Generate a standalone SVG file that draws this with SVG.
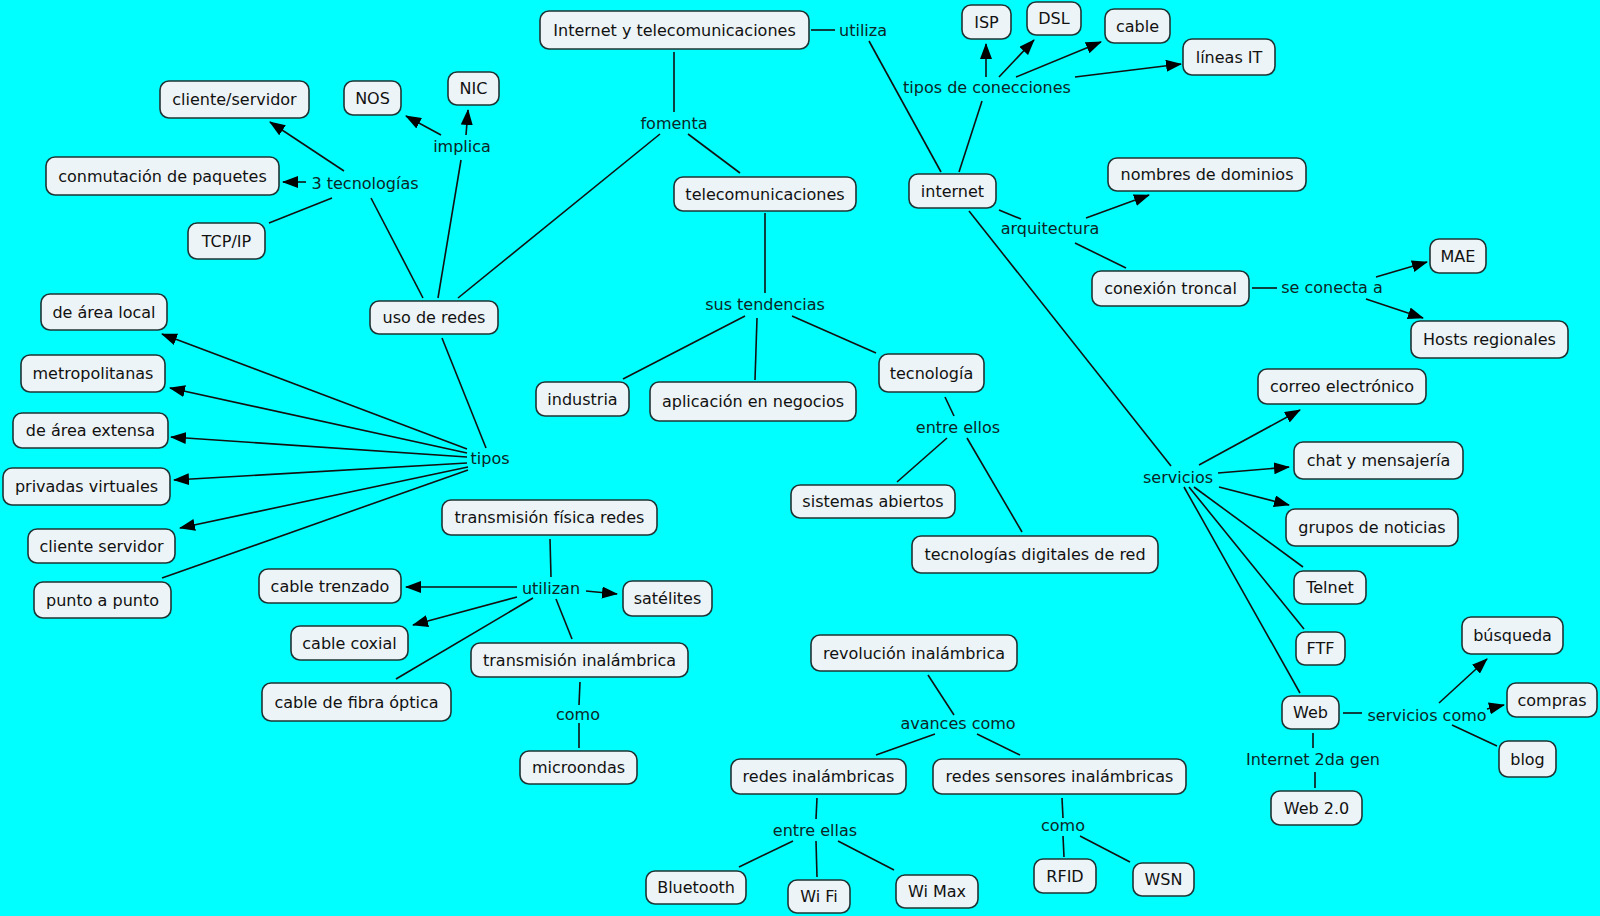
<svg xmlns="http://www.w3.org/2000/svg" width="1600" height="916" viewBox="0 0 1600 916">
<style>
.n rect{fill:#edf4f7;stroke:#1e3434;stroke-width:1.6}
text{font-family:"DejaVu Sans",Verdana,sans-serif;font-size:16px;fill:#111;text-anchor:middle}
.lb{fill:#0b2626}
#links path{fill:none;stroke:#111;stroke-width:1.6}
</style>
<defs>
<marker id="ah" viewBox="0 0 16 12" refX="15" refY="6" markerWidth="16" markerHeight="12" markerUnits="userSpaceOnUse" orient="auto"><path d="M0,0 L16,6 L0,12 z" fill="#000"/></marker>
</defs>
<rect width="1600" height="916" fill="#00ffff"/>
<g id="links">
<path d="M811,30 L835,30"/>
<path d="M869,41 L941,172"/>
<path d="M674,52 L674,112"/>
<path d="M660,134 L458,298"/>
<path d="M688,134 L740,173"/>
<path d="M765,213 L765,293"/>
<path d="M745,316 L623,379"/>
<path d="M757,318 L755,380"/>
<path d="M792,316 L876,353"/>
<path d="M945,397 L954,416"/>
<path d="M947,438 L897,482"/>
<path d="M967,438 L1022,532"/>
<path d="M423,298 L371,198"/>
<path d="M344,171 L270,122" marker-end="url(#ah)"/>
<path d="M306,182 L283,182" marker-end="url(#ah)"/>
<path d="M332,198 L269,223"/>
<path d="M438,298 L461,160"/>
<path d="M441,135 L406,116" marker-end="url(#ah)"/>
<path d="M466,135 L468,110" marker-end="url(#ah)"/>
<path d="M442,338 L486,448"/>
<path d="M467,449 L162,334" marker-end="url(#ah)"/>
<path d="M467,453 L170,388" marker-end="url(#ah)"/>
<path d="M467,457 L171,437" marker-end="url(#ah)"/>
<path d="M467,463 L174,480" marker-end="url(#ah)"/>
<path d="M468,467 L180,528" marker-end="url(#ah)"/>
<path d="M468,470 L162,578"/>
<path d="M550,539 L551,577"/>
<path d="M517,587 L406,587" marker-end="url(#ah)"/>
<path d="M517,597 L413,625" marker-end="url(#ah)"/>
<path d="M533,598 L396,679"/>
<path d="M556,599 L572,639"/>
<path d="M586,591 L617,594" marker-end="url(#ah)"/>
<path d="M580,682 L579,705"/>
<path d="M579,723 L579,748"/>
<path d="M959,172 L982,101"/>
<path d="M986,77 L986,44" marker-end="url(#ah)"/>
<path d="M999,77 L1034,40" marker-end="url(#ah)"/>
<path d="M1016,77 L1101,42" marker-end="url(#ah)"/>
<path d="M1075,77 L1181,64" marker-end="url(#ah)"/>
<path d="M999,210 L1021,219"/>
<path d="M1086,218 L1149,195" marker-end="url(#ah)"/>
<path d="M1075,243 L1126,268"/>
<path d="M1252,288 L1277,288"/>
<path d="M1376,277 L1427,262" marker-end="url(#ah)"/>
<path d="M1366,299 L1423,318" marker-end="url(#ah)"/>
<path d="M969,211 L1171,466"/>
<path d="M1199,465 L1300,410" marker-end="url(#ah)"/>
<path d="M1218,473 L1289,467" marker-end="url(#ah)"/>
<path d="M1219,487 L1289,505" marker-end="url(#ah)"/>
<path d="M1194,487 L1303,567"/>
<path d="M1189,487 L1304,629"/>
<path d="M1184,487 L1300,693"/>
<path d="M1343,713 L1362,713"/>
<path d="M1439,703 L1487,659" marker-end="url(#ah)"/>
<path d="M1487,709 L1504,705" marker-end="url(#ah)"/>
<path d="M1452,725 L1497,746"/>
<path d="M1313,733 L1313,748"/>
<path d="M1315,772 L1315,788"/>
<path d="M928,675 L954,715"/>
<path d="M935,734 L876,755"/>
<path d="M977,734 L1020,755"/>
<path d="M817,798 L816,819"/>
<path d="M793,841 L739,867"/>
<path d="M816,841 L817,877"/>
<path d="M838,841 L894,870"/>
<path d="M1062,798 L1063,818"/>
<path d="M1063,836 L1064,857"/>
<path d="M1080,836 L1130,862"/>
</g>
<g id="labels">
<text class="lb" x="863" y="35.5">utiliza</text>
<text class="lb" x="674" y="128.5">fomenta</text>
<text class="lb" x="462" y="151.5">implica</text>
<text class="lb" x="365" y="188.5">3 tecnologías</text>
<text class="lb" x="490" y="463.5">tipos</text>
<text class="lb" x="765" y="309.5">sus tendencias</text>
<text class="lb" x="958" y="432.5">entre ellos</text>
<text class="lb" x="551" y="593.5">utilizan</text>
<text class="lb" x="578" y="719.5">como</text>
<text class="lb" x="987" y="92.5">tipos de conecciones</text>
<text class="lb" x="1050" y="233.5">arquitectura</text>
<text class="lb" x="1332" y="292.5">se conecta a</text>
<text class="lb" x="1178" y="482.5">servicios</text>
<text class="lb" x="1427" y="720.5">servicios como</text>
<text class="lb" x="1313" y="764.5">Internet 2da gen</text>
<text class="lb" x="958" y="728.5">avances como</text>
<text class="lb" x="815" y="835.5">entre ellas</text>
<text class="lb" x="1063" y="830.5">como</text>
</g>
<g id="n1" class="n"><rect x="540" y="11" width="269" height="38" rx="9"/><text x="674.5" y="35.5">Internet y telecomunicaciones</text></g>
<g id="n2" class="n"><rect x="674" y="177" width="182" height="34" rx="9"/><text x="765" y="199.5">telecomunicaciones</text></g>
<g id="n3" class="n"><rect x="370" y="301" width="128" height="33" rx="9"/><text x="434" y="323">uso de redes</text></g>
<g id="n4" class="n"><rect x="160" y="81" width="149" height="37" rx="9"/><text x="234.5" y="105">cliente/servidor</text></g>
<g id="n5" class="n"><rect x="344" y="81" width="57" height="34" rx="9"/><text x="372.5" y="103.5">NOS</text></g>
<g id="n6" class="n"><rect x="448" y="72" width="51" height="33" rx="9"/><text x="473.5" y="94">NIC</text></g>
<g id="n7" class="n"><rect x="46" y="157" width="233" height="38" rx="9"/><text x="162.5" y="181.5">conmutación de paquetes</text></g>
<g id="n8" class="n"><rect x="188" y="223" width="77" height="36" rx="9"/><text x="226.5" y="246.5">TCP/IP</text></g>
<g id="n9" class="n"><rect x="41" y="294" width="126" height="36" rx="9"/><text x="104" y="317.5">de área local</text></g>
<g id="n10" class="n"><rect x="21" y="355" width="144" height="37" rx="9"/><text x="93" y="379">metropolitanas</text></g>
<g id="n11" class="n"><rect x="13" y="413" width="155" height="35" rx="9"/><text x="90.5" y="436">de área extensa</text></g>
<g id="n12" class="n"><rect x="3" y="468" width="167" height="37" rx="9"/><text x="86.5" y="492">privadas virtuales</text></g>
<g id="n13" class="n"><rect x="28" y="529" width="147" height="34" rx="9"/><text x="101.5" y="551.5">cliente servidor</text></g>
<g id="n14" class="n"><rect x="34" y="582" width="137" height="36" rx="9"/><text x="102.5" y="605.5">punto a punto</text></g>
<g id="n15" class="n"><rect x="442" y="500" width="215" height="35" rx="9"/><text x="549.5" y="523">transmisión física redes</text></g>
<g id="n16" class="n"><rect x="259" y="569" width="142" height="34" rx="9"/><text x="330" y="591.5">cable trenzado</text></g>
<g id="n17" class="n"><rect x="291" y="626" width="117" height="34" rx="9"/><text x="349.5" y="648.5">cable coxial</text></g>
<g id="n18" class="n"><rect x="262" y="683" width="189" height="38" rx="9"/><text x="356.5" y="707.5">cable de fibra óptica</text></g>
<g id="n19" class="n"><rect x="623" y="581" width="89" height="35" rx="9"/><text x="667.5" y="604">satélites</text></g>
<g id="n20" class="n"><rect x="471" y="643" width="217" height="34" rx="9"/><text x="579.5" y="665.5">transmisión inalámbrica</text></g>
<g id="n21" class="n"><rect x="520" y="751" width="117" height="33" rx="9"/><text x="578.5" y="773">microondas</text></g>
<g id="n22" class="n"><rect x="536" y="382" width="93" height="34" rx="9"/><text x="582.5" y="404.5">industria</text></g>
<g id="n23" class="n"><rect x="650" y="382" width="206" height="39" rx="9"/><text x="753" y="407">aplicación en negocios</text></g>
<g id="n24" class="n"><rect x="879" y="354" width="105" height="38" rx="9"/><text x="931.5" y="378.5">tecnología</text></g>
<g id="n25" class="n"><rect x="791" y="485" width="164" height="33" rx="9"/><text x="873" y="507">sistemas abiertos</text></g>
<g id="n26" class="n"><rect x="912" y="536" width="246" height="37" rx="9"/><text x="1035" y="560">tecnologías digitales de red</text></g>
<g id="n27" class="n"><rect x="909" y="174" width="87" height="34" rx="9"/><text x="952.5" y="196.5">internet</text></g>
<g id="n28" class="n"><rect x="962" y="5" width="49" height="34" rx="9"/><text x="986.5" y="27.5">ISP</text></g>
<g id="n29" class="n"><rect x="1027" y="2" width="54" height="33" rx="9"/><text x="1054" y="24">DSL</text></g>
<g id="n30" class="n"><rect x="1105" y="9" width="65" height="34" rx="9"/><text x="1137.5" y="31.5">cable</text></g>
<g id="n31" class="n"><rect x="1183" y="39" width="92" height="36" rx="9"/><text x="1229" y="62.5">líneas IT</text></g>
<g id="n32" class="n"><rect x="1108" y="158" width="198" height="33" rx="9"/><text x="1207" y="180">nombres de dominios</text></g>
<g id="n33" class="n"><rect x="1092" y="271" width="157" height="35" rx="9"/><text x="1170.5" y="294">conexión troncal</text></g>
<g id="n34" class="n"><rect x="1430" y="239" width="56" height="34" rx="9"/><text x="1458" y="261.5">MAE</text></g>
<g id="n35" class="n"><rect x="1411" y="321" width="157" height="37" rx="9"/><text x="1489.5" y="345">Hosts regionales</text></g>
<g id="n36" class="n"><rect x="1258" y="369" width="168" height="35" rx="9"/><text x="1342" y="392">correo electrónico</text></g>
<g id="n37" class="n"><rect x="1294" y="442" width="169" height="37" rx="9"/><text x="1378.5" y="466">chat y mensajería</text></g>
<g id="n38" class="n"><rect x="1286" y="509" width="172" height="37" rx="9"/><text x="1372" y="533">grupos de noticias</text></g>
<g id="n39" class="n"><rect x="1294" y="571" width="72" height="33" rx="9"/><text x="1330" y="593">Telnet</text></g>
<g id="n40" class="n"><rect x="1296" y="632" width="49" height="33" rx="9"/><text x="1320.5" y="654">FTF</text></g>
<g id="n41" class="n"><rect x="1282" y="696" width="57" height="33" rx="9"/><text x="1310.5" y="718">Web</text></g>
<g id="n42" class="n"><rect x="1462" y="617" width="101" height="37" rx="9"/><text x="1512.5" y="641">búsqueda</text></g>
<g id="n43" class="n"><rect x="1507" y="683" width="90" height="34" rx="9"/><text x="1552" y="705.5">compras</text></g>
<g id="n44" class="n"><rect x="1499" y="741" width="57" height="36" rx="9"/><text x="1527.5" y="764.5">blog</text></g>
<g id="n45" class="n"><rect x="1271" y="791" width="91" height="34" rx="9"/><text x="1316.5" y="813.5">Web 2.0</text></g>
<g id="n46" class="n"><rect x="811" y="635" width="206" height="36" rx="9"/><text x="914" y="658.5">revolución inalámbrica</text></g>
<g id="n47" class="n"><rect x="731" y="759" width="175" height="35" rx="9"/><text x="818.5" y="782">redes inalámbricas</text></g>
<g id="n48" class="n"><rect x="933" y="759" width="253" height="35" rx="9"/><text x="1059.5" y="782">redes sensores inalámbricas</text></g>
<g id="n49" class="n"><rect x="646" y="871" width="100" height="33" rx="9"/><text x="696" y="893">Bluetooth</text></g>
<g id="n50" class="n"><rect x="788" y="880" width="62" height="33" rx="9"/><text x="819" y="902">Wi Fi</text></g>
<g id="n51" class="n"><rect x="896" y="875" width="82" height="33" rx="9"/><text x="937" y="897">Wi Max</text></g>
<g id="n52" class="n"><rect x="1034" y="859" width="62" height="34" rx="9"/><text x="1065" y="881.5">RFID</text></g>
<g id="n53" class="n"><rect x="1133" y="863" width="61" height="33" rx="9"/><text x="1163.5" y="885">WSN</text></g>
</svg>
